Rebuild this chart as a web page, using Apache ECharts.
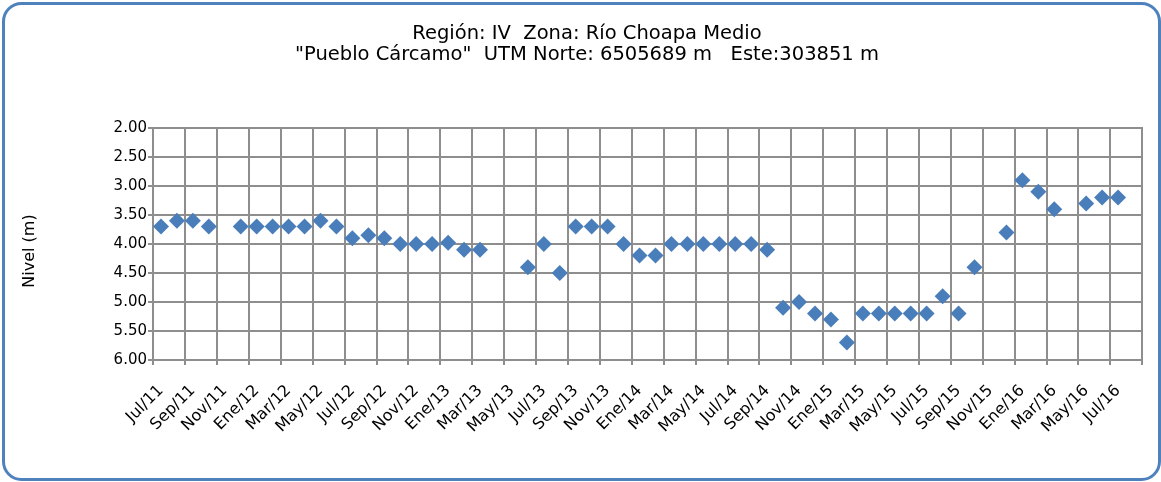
<!DOCTYPE html>
<html>
<head>
<meta charset="utf-8">
<script src="https://cdn.jsdelivr.net/npm/echarts@6/dist/echarts.min.js"></script>
<style>
  html, body { margin: 0; padding: 0; background: #ffffff; }
  #chart { width: 1161px; height: 482px; }
</style>
</head>
<body>
<div id="chart"></div>
<script>
// Monthly categories, Jul/11 through Aug/16 (the last band closes the axis at Sep/16)
const months = [
  'Jul/11','Ago/11','Sep/11','Oct/11','Nov/11','Dic/11',
  'Ene/12','Feb/12','Mar/12','Abr/12','May/12','Jun/12',
  'Jul/12','Ago/12','Sep/12','Oct/12','Nov/12','Dic/12',
  'Ene/13','Feb/13','Mar/13','Abr/13','May/13','Jun/13',
  'Jul/13','Ago/13','Sep/13','Oct/13','Nov/13','Dic/13',
  'Ene/14','Feb/14','Mar/14','Abr/14','May/14','Jun/14',
  'Jul/14','Ago/14','Sep/14','Oct/14','Nov/14','Dic/14',
  'Ene/15','Feb/15','Mar/15','Abr/15','May/15','Jun/15',
  'Jul/15','Ago/15','Sep/15','Oct/15','Nov/15','Dic/15',
  'Ene/16','Feb/16','Mar/16','Abr/16','May/16','Jun/16',
  'Jul/16','Ago/16'
];

// Water level (m below surface); null = no measurement that month
const nivel = [
  3.70, 3.60, 3.60, 3.70, null, 3.70,
  3.70, 3.70, 3.70, 3.70, 3.60, 3.70,
  3.90, 3.85, 3.90, 4.00, 4.00, 4.00,
  3.98, 4.10, 4.10, null, null, 4.40,
  4.00, 4.50, 3.70, 3.70, 3.70, 4.00,
  4.20, 4.20, 4.00, 4.00, 4.00, 4.00,
  4.00, 4.00, 4.10, 5.10, 5.00, 5.20,
  5.30, 5.70, 5.20, 5.20, 5.20, 5.20,
  5.20, 4.90, 5.20, 4.40, null, 3.80,
  2.90, 3.10, 3.40, null, 3.30, 3.20,
  3.20, null
];

const titleLines = [
  'Región: IV  Zona: Río Choapa Medio',
  '"Pueblo Cárcamo"  UTM Norte: 6505689 m   Este:303851 m'
];

const chart = echarts.init(document.getElementById('chart'), null, { renderer: 'canvas' });

const gridColor = '#8e8e8e';

chart.setOption({
  backgroundColor: '#ffffff',
  animation: false,
  title: {
    text: titleLines.join('\n'),
    left: 582,
    textAlign: 'center',
    top: 18,
    textStyle: {
      fontFamily: 'DejaVu Sans',
      fontSize: 19.5,
      fontWeight: 'normal',
      color: '#000000',
      lineHeight: 21
    }
  },
  graphic: [{
    type: 'rect',
    shape: { x: 3.5, y: 3.5, width: 1156, height: 476, r: 18 },
    style: { fill: null, stroke: '#4F81BD', lineWidth: 3 },
    silent: true,
    z: 100
  }],
  grid: {
    left: 153,
    right: 19,
    top: 128,
    bottom: 122,
    show: true,
    borderColor: gridColor,
    borderWidth: 2
  },
  xAxis: {
    type: 'category',
    data: months,
    boundaryGap: true,
    axisLine: { show: true, lineStyle: { color: gridColor, width: 2 } },
    axisTick: { show: true, interval: 1, length: 5, lineStyle: { color: gridColor, width: 2 } },
    splitLine: { show: true, interval: 1, lineStyle: { color: gridColor, width: 2 } },
    axisLabel: {
      interval: 1,
      rotate: 45,
      margin: 28,
      fontFamily: 'DejaVu Sans',
      fontSize: 16,
      color: '#000000'
    }
  },
  yAxis: {
    type: 'value',
    inverse: true,
    min: 2,
    max: 6,
    interval: 0.5,
    name: 'Nivel (m)',
    nameLocation: 'middle',
    nameGap: 115,
    nameRotate: 90,
    nameTextStyle: {
      fontFamily: 'DejaVu Sans',
      fontSize: 16,
      color: '#000000',
      padding: [0, 14, 0, 0]
    },
    axisLine: { show: true, lineStyle: { color: gridColor, width: 2 } },
    axisTick: { show: true, length: 5, lineStyle: { color: gridColor, width: 2 } },
    splitLine: { show: true, lineStyle: { color: gridColor, width: 2 } },
    axisLabel: {
      margin: 6,
      fontFamily: 'DejaVu Sans',
      fontSize: 15,
      color: '#000000',
      formatter: v => v.toFixed(2)
    }
  },
  series: [{
    type: 'scatter',
    data: nivel,
    symbol: 'diamond',
    symbolSize: [16, 16],
    itemStyle: { color: '#4A7EBB', opacity: 1 }
  }]
});
</script>
</body>
</html>
